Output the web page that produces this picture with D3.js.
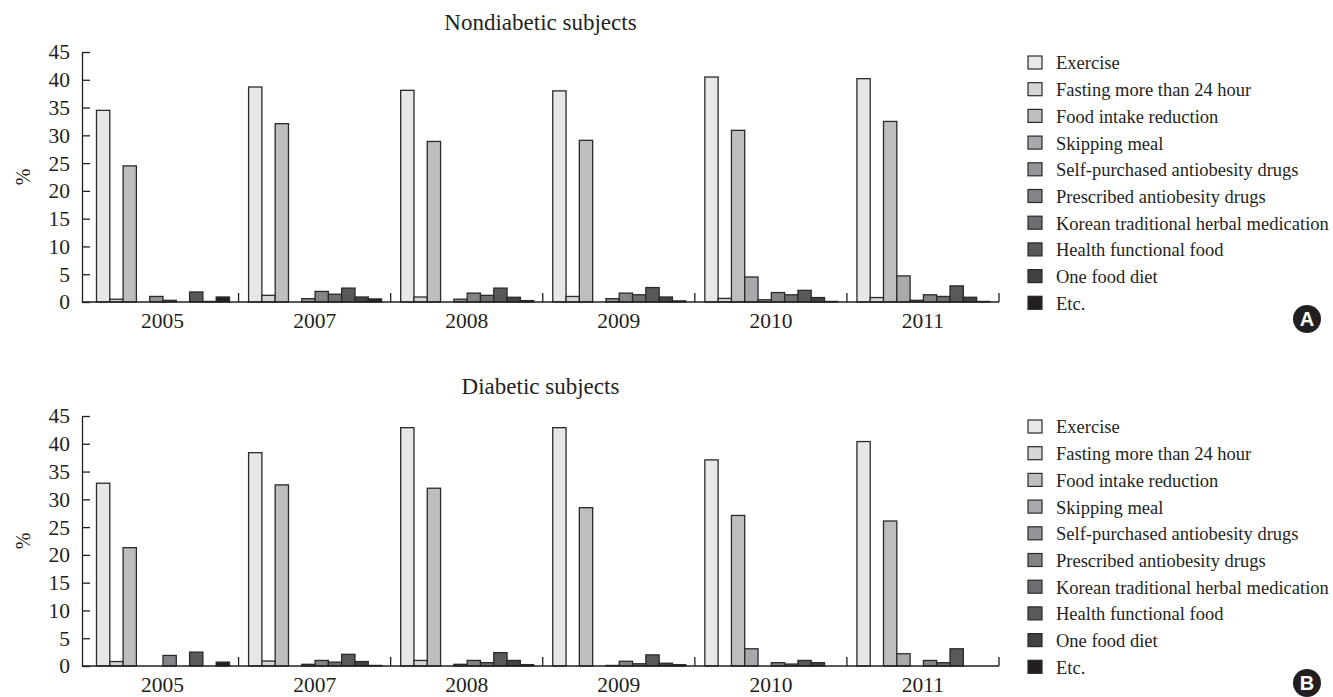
<!DOCTYPE html>
<html lang="en">
<head>
<meta charset="utf-8">
<script src="https://d3js.org/d3.v7.min.js"></script>
<style>
  body { margin: 0; background: #fff; }
  text { font-family: "Liberation Serif", "Times New Roman", serif; }
</style>
</head>
<body>
<script type="text/javascript">

var years = ["2005", "2007", "2008", "2009", "2010", "2011"];

var methods = ["Exercise", "Fasting more than 24 hour", "Food intake reduction", "Skipping meal",
  "Self-purchased antiobesity drugs", "Prescribed antiobesity drugs",
  "Korean traditional herbal medication", "Health functional food", "One food diet", "Etc."];

var colors = ["#e6e7e8", "#d5d6d8", "#bcbec0", "#a7a9ac", "#939598", "#838487",
  "#6d6e71", "#58595b", "#414042", "#231f20"];

// one row per year, values in the order of methods (%)
var nondiabetic = [
  [34.5, 0.5, 24.5, 0,   1.0, 0.3, 0,   1.8, 0.1,  0.9],
  [38.7, 1.2, 32.1, 0,   0.6, 1.9, 1.4, 2.5, 0.9,  0.55],
  [38.1, 0.9, 28.9, 0,   0.5, 1.6, 1.2, 2.5, 0.85, 0.25],
  [38.0, 1.0, 29.1, 0,   0.6, 1.6, 1.3, 2.6, 0.9,  0.2],
  [40.5, 0.65, 30.9, 4.5, 0.4, 1.7, 1.3, 2.1, 0.8, 0.1],
  [40.2, 0.8, 32.5, 4.7, 0.3, 1.3, 1.0, 2.9, 0.85, 0.1]
];

var diabetic = [
  [32.9, 0.8, 21.3, 0,   0,   1.9, 0,    2.5, 0,   0.7],
  [38.4, 0.9, 32.6, 0,   0.3, 1.0, 0.7,  2.1, 0.8, 0.1],
  [42.9, 1.0, 32.0, 0,   0.3, 1.0, 0.6,  2.4, 1.0, 0.25],
  [42.9, 0,   28.5, 0,   0.1, 0.85, 0.4, 2.0, 0.5, 0.25],
  [37.1, 0,   27.1, 3.1, 0,   0.6, 0.35, 1.0, 0.6, 0],
  [40.4, 0,   26.1, 2.2, 0,   1.0, 0.6,  3.1, 0,   0]
];

var yTicks = [0, 5, 10, 15, 20, 25, 30, 35, 40, 45];

var ink = "#231f20";

var svg = d3.select("body")
  .append("svg")
  .attr("width", 1333)
  .attr("height", 697);

var x0 = d3.scaleBand().domain(years).range([86.5, 999]);
var x1 = d3.scaleBand().domain(methods).range([10, 143]);

function drawPanel(top, title, values, letter) {
  var g = svg.append("g").attr("transform", "translate(0," + top + ")");

  var y = d3.scaleLinear().domain([0, 45]).range([250, 0]);

  g.append("text")
    .attr("x", 540.5).attr("y", -22)
    .attr("text-anchor", "middle")
    .style("font-size", "23px")
    .style("fill", ink)
    .text(title);

  g.append("text")
    .attr("transform", "translate(30,125) rotate(-90)")
    .attr("text-anchor", "middle")
    .style("font-size", "20px")
    .style("fill", ink)
    .text("%");

  // bars
  var groups = g.selectAll(".year")
    .data(years)
    .enter()
    .append("g")
    .attr("transform", (d) => "translate(" + x0(d) + ",0)");

  groups.selectAll("rect")
    .data((d, i) => values[i].map((v, j) => ({ m: methods[j], v: v, c: colors[j] })).filter((d) => d.v > 0))
    .enter()
    .append("rect")
    .attr("x", (d) => x1(d.m))
    .attr("width", x1.bandwidth())
    .attr("y", (d) => y(d.v))
    .attr("height", (d) => y(0) - y(d.v))
    .attr("fill", (d) => d.c)
    .attr("stroke", "#2b2a2b")
    .attr("stroke-width", 1.3);

  // y axis
  var yAxis = g.append("g")
    .attr("transform", "translate(82,0)")
    .call(d3.axisLeft(y).tickValues(yTicks).tickSizeInner(-8).tickSizeOuter(0).tickPadding(12));
  yAxis.select(".domain").attr("stroke", ink).attr("stroke-width", 1.3);
  yAxis.selectAll(".tick line").attr("stroke", ink).attr("stroke-width", 1.3);
  yAxis.selectAll(".tick text")
    .style("font-family", "'Liberation Serif', serif")
    .style("font-size", "21.5px")
    .attr("fill", ink);

  // x baseline with separators between years
  g.append("line")
    .attr("x1", 82).attr("x2", x0.range()[1])
    .attr("y1", y(0)).attr("y2", y(0))
    .attr("stroke", ink).attr("stroke-width", 1.3);

  g.selectAll(".sep")
    .data(years)
    .enter()
    .append("line")
    .attr("x1", (d) => x0(d) + x0.bandwidth())
    .attr("x2", (d) => x0(d) + x0.bandwidth())
    .attr("y1", y(0)).attr("y2", y(0) - 9)
    .attr("stroke", ink).attr("stroke-width", 1.3);

  g.selectAll(".yearlabel")
    .data(years)
    .enter()
    .append("text")
    .attr("x", (d) => x0(d) + x0.bandwidth() / 2)
    .attr("y", y(0) + 26)
    .attr("text-anchor", "middle")
    .style("font-size", "21.5px")
    .style("fill", ink)
    .text((d) => d);

  // legend
  var leg = g.selectAll(".leg")
    .data(methods)
    .enter()
    .append("g")
    .attr("transform", (d, i) => "translate(1028," + (11 + i * 26.7) + ")");

  leg.append("rect")
    .attr("x", 0).attr("y", -7)
    .attr("width", 14).attr("height", 13)
    .attr("fill", (d, i) => colors[i])
    .attr("stroke", "#2b2a2b")
    .attr("stroke-width", 1.2);

  leg.append("text")
    .attr("x", 28).attr("y", 0)
    .attr("dy", "0.35em")
    .style("font-size", "18.5px")
    .style("fill", ink)
    .text((d) => d);

  // panel letter
  g.append("circle")
    .attr("cx", 1307).attr("cy", 267)
    .attr("r", 14)
    .attr("fill", ink);
  g.append("text")
    .attr("x", 1307).attr("y", 267)
    .attr("dy", "0.36em")
    .attr("text-anchor", "middle")
    .style("font-family", "'Liberation Sans', Arial, sans-serif")
    .style("font-weight", "bold")
    .style("font-size", "20px")
    .style("fill", "#fff")
    .text(letter);
}

drawPanel(52, "Nondiabetic subjects", nondiabetic, "A");
drawPanel(416, "Diabetic subjects", diabetic, "B");

</script>
</body>
</html>
